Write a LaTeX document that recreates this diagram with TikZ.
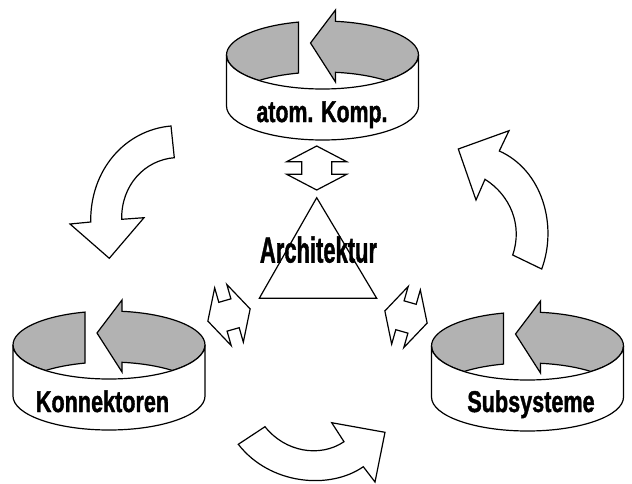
\documentclass[tikz,border=0pt]{standalone}
\usepackage{fontspec}
\usepackage{graphicx}
\newfontfamily\lblfont[BoldFeatures={FakeBold=1.6}]{Liberation Sans}
\definecolor{bandgray}{RGB}{178,178,178}
\tikzset{
  outline/.style={draw=black, line width=1.2pt, line join=miter},
  bandfill/.style={outline, fill=bandgray},
  wall/.style={outline, fill=white},
  hollow/.style={outline, fill=white},
  lbl/.style={font=\lblfont\bfseries\fontsize{30}{36}\selectfont, inner sep=0pt, anchor=base},
  biglbl/.style={font=\lblfont\bfseries\fontsize{36}{40}\selectfont, inner sep=0pt, anchor=base},
}
% a ring band seen from above: inner back wall in gray, split by a gap
% and an arrow head, and a white front wall carrying the label
\newcommand\ringband[2]{%
  \begin{scope}[shift={(#1,#2)}]
    \path[bandfill] (-24,-32.92)
      arc[start angle=255.52, end angle=180, x radius=96, y radius=34]
      arc[start angle=180, end angle=131.41, x radius=96, y radius=34]
      arc[start angle=228.59, end angle=255.52, x radius=96, y radius=34]
      -- cycle;
    \path[bandfill] (13,-33.69)
      arc[start angle=277.78, end angle=360, x radius=96, y radius=34]
      arc[start angle=0, end angle=48.59, x radius=96, y radius=34]
      arc[start angle=311.41, end angle=277.78, x radius=96, y radius=34]
      -- (13,27) -- (-12,-12) -- (13,-45) -- cycle;
    \path[wall] (-96,0)
      arc[start angle=180, end angle=0, x radius=96, y radius=34]
      -- (96,51)
      arc[start angle=0, end angle=180, x radius=96, y radius=34]
      -- cycle;
  \end{scope}}
% double-headed arrow, vertical before rotation
\newcommand\dblarrow[3]{%
  \draw[hollow, shift={(#1,#2)}, rotate=#3]
    (0,-22) -- (30,-6.3) -- (15,-6.3) -- (15,6.3) -- (30,6.3) -- (0,22)
    -- (-30,6.3) -- (-15,6.3) -- (-15,-6.3) -- (-30,-6.3) -- cycle;}
\begin{document}
\begin{tikzpicture}[x=1pt, y=-1pt]
  \useasboundingbox (0,0) rectangle (632,483);

  % the three rings
  \ringband{322.5}{55}
  \ringband{109}{345}
  \ringband{527.5}{346}

  % curved arrows between the rings
  \draw[hollow] (171,126) .. controls (125,130) and (90,170) .. (90.7,222)
    -- (70,224) -- (109.3,258.3) -- (144,217.7) -- (121.7,219.3)
    .. controls (121,185) and (145,160) .. (174.3,157.7) -- cycle;
  \draw[hollow] (541.7,269) .. controls (558,225) and (542,170) .. (499.3,151)
    -- (509,130.7) -- (458.3,149) -- (476,200) -- (485,179.3)
    .. controls (510,195) and (523,225) .. (512.7,255) -- cycle;
  \draw[hollow] (265,426.7) .. controls (285,452) and (320,458) .. (344,441.7)
    -- (331.7,422.7) -- (385,432.3) -- (375,482) -- (363.3,466.7)
    .. controls (330,490) and (270,485) .. (238.3,444.3) -- cycle;

  % central triangle
  \coordinate (apex) at (316.7,197.7);
  \coordinate (baseR) at (376.7,298.3);
  \coordinate (baseL) at (259.3,298.3);
  \draw[outline, fill=white] (apex) -- (baseR) -- (baseL) -- cycle;

  % double arrows towards the rings
  \dblarrow{316.7}{168}{0}
  \dblarrow{229}{315}{-74}
  \dblarrow{406}{317}{74}

  % labels
  \node[lbl] (komp) at (322,122) {\scalebox{0.71}[1]{atom. Komp.}};
  \node[lbl] (konn) at (102.5,412) {\scalebox{0.72}[1]{Konnektoren}};
  \node[lbl] (subs) at (531,412) {\scalebox{0.72}[1]{Subsysteme}};
  \node[biglbl] (arch) at (318.5,262.5) {\scalebox{0.61}[1]{Architektur}};
\end{tikzpicture}
\end{document}
